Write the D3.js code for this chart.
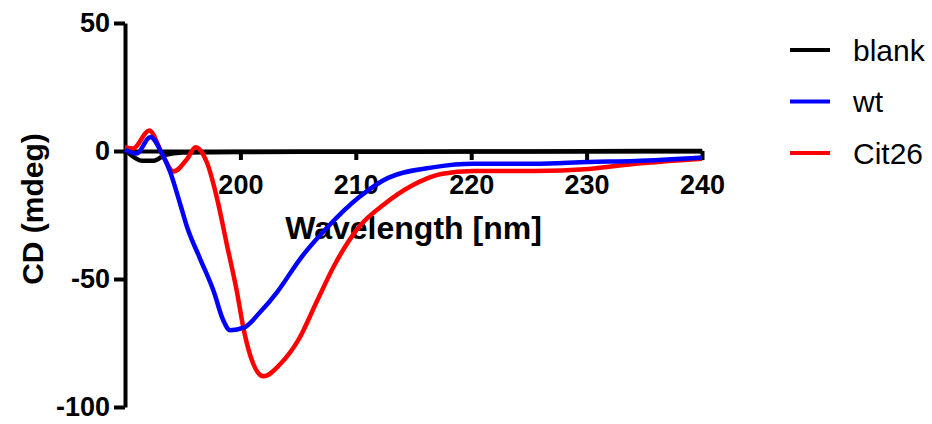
<!DOCTYPE html>
<html>
<head>
<meta charset="utf-8">
<script src="https://cdn.jsdelivr.net/npm/d3@7"></script>
<style>
    body { margin: 0; background: #fff; }
    svg { display: block; font-family: "Liberation Sans", Arial, sans-serif; }
    .tick text { font-weight: bold; font-size: 27px; fill: #000; }
</style>
</head>
<body>
<div id="canvas"></div>
<script>
"use strict"

// ---------------- DATA ----------------
let xTicks = [200, 210, 220, 230, 240]
let yTicks = [-100, -50, 0, 50]

let seriesNames = ["blank", "wt", "Cit26"]
let seriesColors = ["#000000", "#0000ff", "#ff0000"]

let blankWl = [190, 190.8, 191.5, 192.5, 193.5, 195, 200, 210, 220, 230, 240]
let blankCd = [0.5, -2.5, -3.8, -3.8, -1.5, -0.6, -0.4, -0.3, -0.2, -0.1, 0]

let wtWl = [190, 191, 192.2, 193.2, 193.9, 194.8, 195.4, 196.5, 197.7, 198.5, 199.1, 200.3, 201.7, 203.2, 205.2, 207.5, 210.3, 212.8, 216.8, 220.2, 225.5, 230.2, 234.2, 240]
let wtCd = [0.5, -1, 5.5, -1, -8, -21, -30, -42, -55, -66, -70, -69, -63, -55, -42, -30, -18, -10.5, -6.3, -5, -5, -4.3, -3.9, -2.5]

let citWl = [190, 190.7, 192.1, 193.3, 194.2, 195.4, 196.1, 197.1, 198, 198.8, 199.7, 200.3, 201.1, 202, 203.5, 205, 206.7, 208.1, 210.4, 212.4, 214.8, 217.4, 220.2, 225.5, 230.2, 234.2, 240]
let citCd = [1.5, 1, 8, -2, -8, -3, 1.5, -4.5, -19, -36, -55, -70, -83, -88, -83, -74, -58, -45, -29, -21, -13.7, -9, -7.8, -7.8, -7, -5, -3]

// ---------------- SETUP ----------------
let svgWidth = 932
let svgHeight = 424

let svg = d3.select("#canvas")
    .append("svg")
    .attr("width", svgWidth)
    .attr("height", svgHeight)

let xScale = d3.scaleLinear()
    .domain([190, 240])
    .range([125, 702])

let yScale = d3.scaleLinear()
    .domain([-100, 50])
    .range([407, 23])

// ---------------- AXES ----------------
let xAxis = d3.axisBottom(xScale)
    .tickValues(xTicks)
    .tickSize(9)
    .tickSizeOuter(0)
    .tickPadding(10)
    .tickFormat(function(d) { return String(d) })

let yAxis = d3.axisLeft(yScale)
    .tickValues(yTicks)
    .tickSize(11)
    .tickSizeOuter(0)
    .tickPadding(4)
    .tickFormat(function(d) { return String(d) })

let gx = svg.append("g")
    .attr("transform", `translate(0,${yScale(0)})`)
    .call(xAxis)

gx.select(".domain").attr("stroke-width", 4)
gx.selectAll(".tick line").attr("stroke-width", 4)
gx.selectAll(".tick text").attr("dy", "0.9em")

let gy = svg.append("g")
    .attr("transform", `translate(${xScale(190)},0)`)
    .call(yAxis)

gy.select(".domain").attr("stroke-width", 4)
gy.selectAll(".tick line").attr("stroke-width", 4)

svg.append("text")
    .attr("x", (xScale(190) + xScale(240)) / 2)
    .attr("y", 239)
    .attr("text-anchor", "middle")
    .attr("font-weight", "bold")
    .attr("font-size", 32)
    .text("Wavelength [nm]")

svg.append("text")
    .attr("transform", "rotate(-90)")
    .attr("x", -209)
    .attr("y", 43)
    .attr("text-anchor", "middle")
    .attr("font-weight", "bold")
    .attr("font-size", 30)
    .text("CD (mdeg)")

// ---------------- LINES ----------------
let line = d3.line()
    .x(function(d) { return xScale(d[0]) })
    .y(function(d) { return yScale(d[1]) })
    .curve(d3.curveMonotoneX)

let series = [
    d3.zip(blankWl, blankCd),
    d3.zip(wtWl, wtCd),
    d3.zip(citWl, citCd)
]

// red under blue, like the original
let order = [0, 2, 1]
order.forEach(function(i) {
    svg.append("path")
        .datum(series[i])
        .attr("fill", "none")
        .attr("stroke", seriesColors[i])
        .attr("stroke-width", 4.5)
        .attr("stroke-linejoin", "round")
        .attr("d", line)
})

// ---------------- LEGEND ----------------
let legend = svg.append("g")
    .attr("transform", "translate(790,50)")

legend.selectAll("line")
    .data(seriesNames)
    .enter()
    .append("line")
    .attr("x1", 0)
    .attr("x2", 40)
    .attr("y1", function(d, i) { return i * 51.5 })
    .attr("y2", function(d, i) { return i * 51.5 })
    .attr("stroke", function(d, i) { return seriesColors[i] })
    .attr("stroke-width", 4)

legend.selectAll("text")
    .data(seriesNames)
    .enter()
    .append("text")
    .attr("x", 63)
    .attr("y", function(d, i) { return i * 51.5 })
    .attr("dy", "0.35em")
    .attr("font-size", 30)
    .text(function(d) { return d })
</script>
</body>
</html>
